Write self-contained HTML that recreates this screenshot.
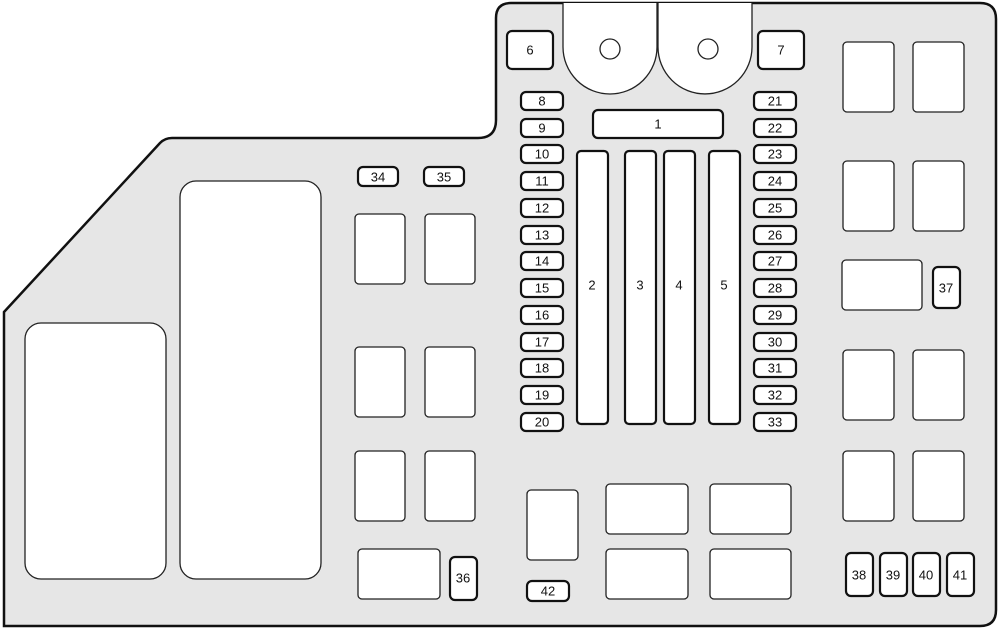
<!DOCTYPE html>
<html><head><meta charset="utf-8"><style>
html,body{margin:0;padding:0;background:#fff;width:1000px;height:629px;overflow:hidden}
svg{display:block}
text{font-family:"Liberation Sans",sans-serif;font-size:13px;fill:#111;text-anchor:middle;dominant-baseline:central}
.r{fill:#fff;stroke:#222;stroke-width:1.3}
.f{fill:#fff;stroke:#111;stroke-width:2.2}
</style></head><body>
<svg width="1000" height="629" viewBox="0 0 1000 629">
<path d="M4,312 L160,143 Q165,138 172,138 L478,138 Q496,138 496,120 L496,18 Q496,3 511,3 L980,3 Q996,3 996,19 L996,610 Q996,626 980,626 L4,626 Z" fill="#e6e6e6" stroke="#111" stroke-width="2.5"/>
<!-- lobes -->
<path d="M563,3 L563,47 A47,47 0 0 0 657,47 L657,3" class="r"/>
<path d="M658,3 L658,47 A47,47 0 0 0 752,47 L752,3" class="r"/>
<circle cx="610" cy="49" r="10" class="r"/>
<circle cx="708" cy="49" r="10" class="r"/>
<rect x="507" y="31" width="46" height="38" rx="5" class="f"/><text x="530" y="50">6</text>
<rect x="758" y="31" width="46" height="38" rx="5" class="f"/><text x="781" y="50">7</text>
<rect x="593" y="110" width="130" height="28" rx="5" class="f"/><text x="658" y="124">1</text>
<rect x="577" y="151" width="31" height="273" rx="4" class="f"/><text x="592" y="285">2</text>
<rect x="625" y="151" width="31" height="273" rx="4" class="f"/><text x="640" y="285">3</text>
<rect x="664" y="151" width="31" height="273" rx="4" class="f"/><text x="679" y="285">4</text>
<rect x="709" y="151" width="31" height="273" rx="4" class="f"/><text x="724" y="285">5</text>
<g>
<rect x="521" y="92" width="42" height="18" rx="5" class="f"/><text x="542" y="101">8</text>
<rect x="521" y="119" width="42" height="18" rx="5" class="f"/><text x="542" y="128">9</text>
<rect x="521" y="145" width="42" height="18" rx="5" class="f"/><text x="542" y="154">10</text>
<rect x="521" y="172" width="42" height="18" rx="5" class="f"/><text x="542" y="181">11</text>
<rect x="521" y="199" width="42" height="18" rx="5" class="f"/><text x="542" y="208">12</text>
<rect x="521" y="226" width="42" height="18" rx="5" class="f"/><text x="542" y="235">13</text>
<rect x="521" y="252" width="42" height="18" rx="5" class="f"/><text x="542" y="261">14</text>
<rect x="521" y="279" width="42" height="18" rx="5" class="f"/><text x="542" y="288">15</text>
<rect x="521" y="306" width="42" height="18" rx="5" class="f"/><text x="542" y="315">16</text>
<rect x="521" y="333" width="42" height="18" rx="5" class="f"/><text x="542" y="342">17</text>
<rect x="521" y="359" width="42" height="18" rx="5" class="f"/><text x="542" y="368">18</text>
<rect x="521" y="386" width="42" height="18" rx="5" class="f"/><text x="542" y="395">19</text>
<rect x="521" y="413" width="42" height="18" rx="5" class="f"/><text x="542" y="422">20</text>
<rect x="754" y="92" width="42" height="18" rx="5" class="f"/><text x="775" y="101">21</text>
<rect x="754" y="119" width="42" height="18" rx="5" class="f"/><text x="775" y="128">22</text>
<rect x="754" y="145" width="42" height="18" rx="5" class="f"/><text x="775" y="154">23</text>
<rect x="754" y="172" width="42" height="18" rx="5" class="f"/><text x="775" y="181">24</text>
<rect x="754" y="199" width="42" height="18" rx="5" class="f"/><text x="775" y="208">25</text>
<rect x="754" y="226" width="42" height="18" rx="5" class="f"/><text x="775" y="235">26</text>
<rect x="754" y="252" width="42" height="18" rx="5" class="f"/><text x="775" y="261">27</text>
<rect x="754" y="279" width="42" height="18" rx="5" class="f"/><text x="775" y="288">28</text>
<rect x="754" y="306" width="42" height="18" rx="5" class="f"/><text x="775" y="315">29</text>
<rect x="754" y="333" width="42" height="18" rx="5" class="f"/><text x="775" y="342">30</text>
<rect x="754" y="359" width="42" height="18" rx="5" class="f"/><text x="775" y="368">31</text>
<rect x="754" y="386" width="42" height="18" rx="5" class="f"/><text x="775" y="395">32</text>
<rect x="754" y="413" width="42" height="18" rx="5" class="f"/><text x="775" y="422">33</text>
</g>
<!-- left big -->
<rect x="25" y="323" width="141" height="256" rx="16" class="r"/>
<rect x="180" y="181" width="141" height="398" rx="16" class="r"/>
<rect x="358" y="167" width="40" height="19" rx="5" class="f"/><text x="378" y="177">34</text>
<rect x="424" y="167" width="40" height="19" rx="5" class="f"/><text x="444" y="177">35</text>
<rect x="355" y="214" width="50" height="70" rx="4" class="r"/>
<rect x="425" y="214" width="50" height="70" rx="4" class="r"/>
<rect x="355" y="347" width="50" height="70" rx="4" class="r"/>
<rect x="425" y="347" width="50" height="70" rx="4" class="r"/>
<rect x="355" y="451" width="50" height="70" rx="4" class="r"/>
<rect x="425" y="451" width="50" height="70" rx="4" class="r"/>
<rect x="358" y="549" width="82" height="50" rx="4" class="r"/>
<rect x="450" y="557" width="27" height="43" rx="5" class="f"/><text x="463" y="578">36</text>
<rect x="527" y="490" width="51" height="70" rx="4" class="r"/>
<rect x="527" y="581" width="42" height="20" rx="5" class="f"/><text x="548" y="591">42</text>
<rect x="606" y="484" width="82" height="50" rx="4" class="r"/>
<rect x="710" y="484" width="81" height="50" rx="4" class="r"/>
<rect x="606" y="549" width="82" height="50" rx="4" class="r"/>
<rect x="710" y="549" width="81" height="50" rx="4" class="r"/>
<!-- right -->
<rect x="843" y="42" width="51" height="70" rx="4" class="r"/>
<rect x="913" y="42" width="51" height="70" rx="4" class="r"/>
<rect x="843" y="161" width="51" height="70" rx="4" class="r"/>
<rect x="913" y="161" width="51" height="70" rx="4" class="r"/>
<rect x="842" y="260" width="80" height="50" rx="4" class="r"/>
<rect x="933" y="267" width="27" height="41" rx="5" class="f"/><text x="946" y="288">37</text>
<rect x="843" y="350" width="51" height="70" rx="4" class="r"/>
<rect x="913" y="350" width="51" height="70" rx="4" class="r"/>
<rect x="843" y="451" width="51" height="70" rx="4" class="r"/>
<rect x="913" y="451" width="51" height="70" rx="4" class="r"/>
<rect x="846" y="553" width="27" height="43" rx="5" class="f"/><text x="859" y="575">38</text>
<rect x="880" y="553" width="27" height="43" rx="5" class="f"/><text x="893" y="575">39</text>
<rect x="913" y="553" width="27" height="43" rx="5" class="f"/><text x="926" y="575">40</text>
<rect x="947" y="553" width="27" height="43" rx="5" class="f"/><text x="960" y="575">41</text>
</svg>
</body></html>
